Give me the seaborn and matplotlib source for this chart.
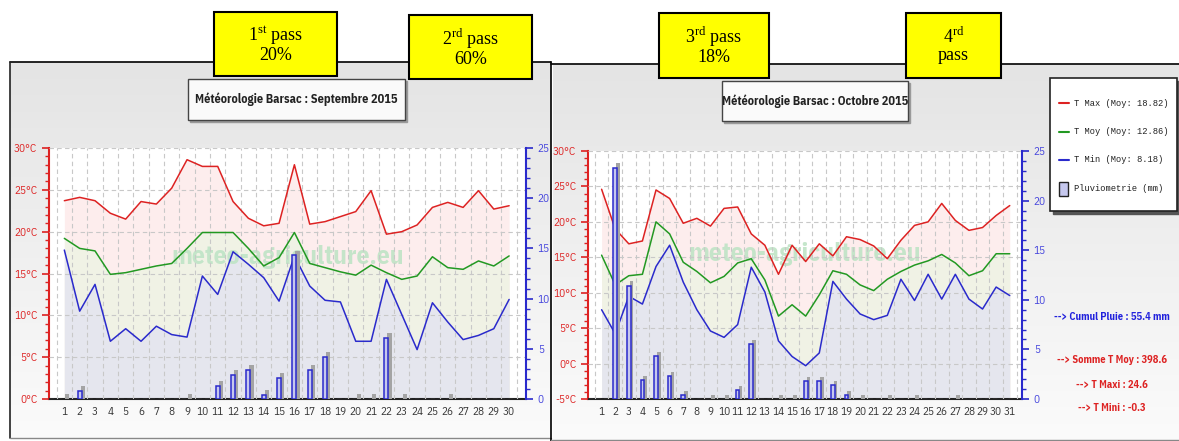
import numpy as np
import matplotlib
matplotlib.use("Agg")
import matplotlib.pyplot as plt
import seaborn as sns
from matplotlib.patches import Rectangle
from matplotlib.colors import LinearSegmentedColormap
from matplotlib.ticker import MultipleLocator, FixedLocator, NullFormatter

sns.set_theme(style="white")
plt.rcParams["font.family"] = ["IBM Plex Sans Condensed", "DejaVu Sans"]
plt.rcParams["mathtext.fontset"] = "custom"
plt.rcParams["mathtext.rm"] = "Liberation Serif"

# ---- September 2015 ----
sep_days = list(range(1, 31))
sep_tmax = [23.7, 24.1, 23.7, 22.2, 21.5, 23.6, 23.3, 25.2, 28.6, 27.8,
            27.8, 23.6, 21.6, 20.7, 21.0, 28.0, 20.9, 21.2, 21.8, 22.4,
            24.9, 19.7, 20.0, 20.8, 22.9, 23.5, 22.9, 24.9, 22.7, 23.1]
sep_tmoy = [19.2, 18.0, 17.7, 14.9, 15.1, 15.5, 15.9, 16.2, 18.0, 19.9,
            19.9, 19.9, 18.0, 15.9, 16.9, 19.9, 16.2, 15.7, 15.2, 14.8,
            16.0, 15.1, 14.3, 14.7, 17.0, 15.7, 15.5, 16.5, 15.9, 17.1]
sep_tmin = [17.8, 10.5, 13.7, 6.9, 8.4, 6.9, 8.7, 7.7, 7.4, 14.7,
            12.5, 17.6, 16.1, 14.5, 11.7, 17.1, 13.5, 11.8, 11.6, 6.9,
            6.9, 14.3, 10.1, 5.9, 11.5, 9.2, 7.1, 7.6, 8.4, 11.9]
nan = np.nan
sep_rain = [0.0, 0.8, nan, nan, nan, nan, nan, nan, 0.0, nan,
            1.3, 2.4, 2.9, 0.4, 2.1, 14.3, 2.9, 4.2, nan, 0.0,
            0.0, 6.1, 0.0, nan, nan, 0.0, nan, nan, nan, nan]

# ---- October 2015 ----
oct_days = list(range(1, 32))
oct_tmax = [24.6, 19.0, 16.9, 17.3, 24.5, 23.3, 19.8, 20.5, 19.4, 21.9,
            22.1, 18.3, 16.7, 12.6, 16.7, 14.4, 16.9, 15.2, 17.9, 17.5,
            16.6, 14.8, 17.4, 19.5, 20.0, 22.6, 20.2, 18.8, 19.2, 20.9, 22.3]
oct_tmoy = [15.3, 11.1, 12.4, 12.6, 20.0, 18.3, 14.3, 13.0, 11.4, 12.3,
            14.2, 14.8, 11.8, 6.7, 8.3, 6.7, 9.7, 13.1, 12.6, 11.1,
            10.3, 11.9, 13.0, 13.9, 14.5, 15.4, 14.2, 12.4, 13.1, 15.5, 15.5]
oct_tmin = [7.6, 4.2, 9.5, 8.4, 13.7, 16.7, 11.5, 7.6, 4.6, 3.7,
            5.5, 13.6, 10.1, 3.2, 1.0, -0.3, 1.5, 11.6, 9.1, 7.0,
            6.2, 6.8, 11.9, 8.9, 12.6, 9.1, 12.6, 9.1, 7.7, 10.8, 9.6]
oct_rain = [nan, 23.3, 11.4, 1.9, 4.3, 2.3, 0.4, nan, 0.0, 0.0,
            0.9, 5.5, nan, 0.0, 0.0, 1.8, 1.8, 1.4, 0.4, 0.0,
            nan, 0.0, nan, 0.0, nan, nan, 0.0, nan, nan, nan, nan]

titles = ["Météorologie Barsac : Septembre 2015", "Météorologie Barsac : Octobre 2015"]
pass_labels = [r"1$^{\rm st}$ pass" + "\n20%", r"2$^{\rm rd}$ pass" + "\n60%",
               r"3$^{\rm rd}$ pass" + "\n18%", r"4$^{\rm rd}$" + "\npass"]
legend_labels = ["T Max (Moy: 18.82)", "T Moy (Moy: 12.86)",
                 "T Min (Moy: 8.18)", "Pluviometrie (mm)"]
summary_lines = ["--> Cumul Pluie : 55.4 mm", "--> Somme T Moy : 398.6",
                 "--> T Maxi : 24.6", "--> T Mini : -0.3"]

RED, GREEN, BLUE = "#dd2222", "#229922", "#2a2acc"
W, H = 1179, 441

fig = plt.figure(figsize=(W / 100, H / 100), dpi=100)
bg = fig.add_axes([0, 0, 1, 1])
bg.axis("off")

# grey gradient panels
cmap = LinearSegmentedColormap.from_list("panel", ["#e4e4e4", "#fbfbfb"])
grad = np.linspace(0, 1, 256).reshape(-1, 1)
for (x0, y0, x1, y1) in [(10, 62, 551, 438), (553, 64, 1179, 441)]:
    bg.imshow(grad, extent=(x0, x1, y1, y0), cmap=cmap, aspect="auto", origin="upper", zorder=0)
bg.plot([10, 551], [62, 62], color="black", lw=1.2)
bg.plot([10, 10], [62, 438], color="#222222", lw=1.2)
bg.plot([10, 551], [438, 438], color="#888888", lw=1.0)
bg.plot([551, 551], [62, 441], color="black", lw=1.2)
bg.plot([551, 1179], [64, 64], color="black", lw=1.2)
bg.plot([551, 1179], [440, 440], color="#888888", lw=1.0)
bg.set_xlim(0, W)
bg.set_ylim(H, 0)


def px_axes(x0, y0, x1, y1):
    return fig.add_axes([x0 / W, 1 - y1 / H, (x1 - x0) / W, (y1 - y0) / H])


def draw_chart(box, days, tmax, tmoy, tmin, rain, tlow, xmax, wm_y):
    ax = px_axes(*box)
    ax.set_facecolor("white")
    ax.set_xlim(0, xmax)
    ax.set_ylim(tlow, 30)

    # stacked area fills down to the axis bottom
    ax.fill_between(days, tmax, tlow, color="#fdeded", lw=0, zorder=0.5)
    ax.fill_between(days, tmoy, tlow, color="#f0f2e5", lw=0, zorder=0.6)
    ax.fill_between(days, tmin, tlow, color="#e5e6ee", lw=0, zorder=0.7)

    ax.text(0.5, wm_y, "meteo-agriculture.eu", transform=ax.transAxes, ha="center",
            va="center", fontsize=18.5, fontweight="bold", color="#bfe4c6", alpha=0.9, zorder=0.8)

    sns.lineplot(x=days, y=tmax, ax=ax, color=RED, lw=1.1, zorder=3)
    sns.lineplot(x=days, y=tmoy, ax=ax, color=GREEN, lw=1.1, zorder=3)
    sns.lineplot(x=days, y=tmin, ax=ax, color=BLUE, lw=1.1, zorder=3)

    # x axis: labels at days, ticks + grid between days
    ax.xaxis.set_major_locator(FixedLocator(np.arange(0.5, xmax, 1)))
    ax.xaxis.set_major_formatter(NullFormatter())
    ax.xaxis.set_minor_locator(FixedLocator(days))
    ax.set_xticklabels([str(d) for d in days], minor=True)
    ax.tick_params(axis="x", which="major", direction="in", length=5, color="#333333", width=1)
    ax.tick_params(axis="x", which="minor", length=0, labelsize=8, labelcolor="#333333", pad=6)

    ax.yaxis.set_major_locator(MultipleLocator(5))
    ax.yaxis.set_minor_locator(MultipleLocator(1))
    ax.set_yticks(ax.get_yticks())
    ax.set_yticklabels([f"{int(v)}°C" for v in ax.get_yticks()])
    ax.set_ylim(tlow, 30)
    ax.tick_params(axis="y", which="both", direction="out", color=RED, labelcolor=RED, labelsize=8)
    ax.tick_params(axis="y", which="major", length=5, width=1.2)
    ax.tick_params(axis="y", which="minor", length=3, width=1)
    ax.grid(True, which="major", color="#c8c8c8", ls=(0, (4, 3)), lw=0.8)
    ax.set_axisbelow(False)
    for s in ["top", "right"]:
        ax.spines[s].set_visible(False)
    ax.spines["left"].set_color(RED)
    ax.spines["left"].set_linewidth(1.5)
    ax.spines["bottom"].set_color("#222222")
    ax.spines["bottom"].set_linewidth(1.5)
    ax.set_xlabel("")
    ax.set_ylabel("")

    # rain on the right axis
    ax2 = ax.twinx()
    ax2.set_ylim(0, 25)
    r = np.array(rain, dtype=float)
    d = np.array(days, dtype=float)
    ok = ~np.isnan(r)
    ax2.bar(d[ok] + 0.2, r[ok] + 0.45, width=0.27, color="#a4a4a4", lw=0, zorder=1)
    wet = ok & (r > 0)
    ax2.bar(d[wet], r[wet], width=0.27, color="#c6c8ee", edgecolor=BLUE, lw=1.1, zorder=2)
    ax2.yaxis.set_major_locator(MultipleLocator(5))
    ax2.yaxis.set_minor_locator(MultipleLocator(1))
    ax2.tick_params(axis="y", which="both", direction="out", color=BLUE, labelcolor="#4444dd", labelsize=8)
    ax2.tick_params(axis="y", which="major", length=5, width=1.2)
    ax2.tick_params(axis="y", which="minor", length=3, width=1)
    for s in ["top", "left", "bottom"]:
        ax2.spines[s].set_visible(False)
    ax2.spines["right"].set_color(BLUE)
    ax2.spines["right"].set_linewidth(1.5)
    ax2.grid(False)
    return ax, ax2


draw_chart((49, 148, 526, 399), sep_days, sep_tmax, sep_tmoy, sep_tmin, sep_rain, 0, 31.1, 0.565)
draw_chart((588, 151, 1022, 399), oct_days, oct_tmax, oct_tmoy, oct_tmin, oct_rain, -5, 31.9, 0.585)

# title boxes
for (x0, y0, x1, y1), t in zip([(188, 79, 405, 120), (722, 81, 908, 121)], titles):
    bg.add_patch(Rectangle((x0 + 2, y0 + 2), x1 - x0, y1 - y0, color="#9a9a9a", zorder=4))
    bg.add_patch(Rectangle((x0, y0), x1 - x0, y1 - y0, facecolor="#fafafa", edgecolor="#444444", lw=1, zorder=5))
    bg.text((x0 + x1) / 2, (y0 + y1) / 2, t, ha="center", va="center", fontsize=8.8,
            fontweight="bold", color="#222222", zorder=6)

# yellow pass boxes
for (x0, y0, x1, y1), t in zip([(214, 12, 337, 76), (409, 15, 532, 79),
                                (659, 13, 769, 78), (906, 13, 1001, 78)], pass_labels):
    bg.add_patch(Rectangle((x0, y0), x1 - x0, y1 - y0, facecolor="#ffff00", edgecolor="black", lw=1.5, zorder=5))
    bg.text((x0 + x1) / 2, (y0 + y1) / 2, t, ha="center", va="center", fontsize=13,
            family="Liberation Serif", linespacing=1.0, color="black", zorder=6)

# legend box
bg.add_patch(Rectangle((1053, 81), 127, 133, color="#555555", zorder=4))
bg.add_patch(Rectangle((1050, 78), 127, 133, facecolor="white", edgecolor="#222222", lw=1.2, zorder=5))
for i, (lab, c) in enumerate(zip(legend_labels, [RED, GREEN, BLUE, None])):
    y = 103 + i * 28.5
    if c:
        bg.plot([1059, 1069], [y, y], color=c, lw=1.5, zorder=6)
    else:
        bg.add_patch(Rectangle((1059, y - 7), 9, 14, facecolor="#c6c8ee", edgecolor="#222222", lw=1, zorder=6))
    bg.text(1074, y, lab, ha="left", va="center", fontsize=6.3, family="Liberation Mono",
            color="#222222", zorder=6)

# summary texts
for (y, c), t in zip([(317, "#2222dd"), (360, "#dd2222"), (385, "#dd2222"), (408, "#dd2222")], summary_lines):
    bg.text(1112, y, t, ha="center", va="center", fontsize=7.5, fontweight="bold", color=c, zorder=6)

fig.savefig("out.png", dpi=100)
